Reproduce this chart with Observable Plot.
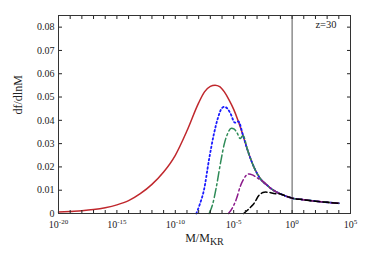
<!DOCTYPE html>
<html>
<head>
<meta charset="utf-8">
<script src="https://cdn.jsdelivr.net/npm/d3@7"></script>
<script src="https://cdn.jsdelivr.net/npm/@observablehq/plot@0.6"></script>
<style>
  html, body { margin: 0; padding: 0; background: #fff; }
  svg { font-family: "Liberation Serif", "DejaVu Serif", serif; }
</style>
</head>
<body>
<div id="chart"></div>
<script>
// log10(M/M_KR) and df/dlnM values
const redLog = [-20,-19,-18,-17,-16,-15,-14,-13,-12,-11,-10,-9,-8,-7.5,-7,-6.6,-6.2,-5.8,-5.4,-5,-4.6,-4.2,-3.8,-3.4,-3,-2.6,-2.2,-1.8,-1.4,-1,-0.5,0,1,2,3,4];
const redVal = [0.0006,0.0009,0.0012,0.0017,0.0025,0.0037,0.0055,0.0085,0.0125,0.0178,0.0250,0.0355,0.0475,0.0522,0.0546,0.0551,0.0545,0.0522,0.0488,0.0447,0.0395,0.0335,0.0270,0.0215,0.0172,0.0142,0.0124,0.0107,0.0094,0.0084,0.0074,0.0066,0.0059,0.0053,0.0048,0.0044];

const blueLog = [-8.2,-7.9,-7.55,-7.1,-6.7,-6.35,-6.0,-5.8,-5.55,-5.27,-4.9];
const blueVal = [0,0.004,0.010,0.0235,0.034,0.041,0.0453,0.0458,0.0451,0.0429,0.0390];

const greenLog = [-7.1,-6.8,-6.5,-6.1,-5.8,-5.5,-5.2,-4.95,-4.7,-4.45];
const greenVal = [0,0.004,0.011,0.0225,0.030,0.0345,0.0366,0.0362,0.0345,0.0322];

const purpleLog = [-5.45,-5.1,-4.75,-4.45,-4.15,-3.9,-3.7,-3.4,-3.1,-2.8];
const purpleVal = [0,0.0025,0.0065,0.0115,0.0148,0.0165,0.0170,0.0166,0.0157,0.0147];

const blackLog = [-4.15,-3.8,-3.5,-3.28,-2.85,-2.5,-2.28,-1.9,-1.57,-1.3];
const blackVal = [0,0.0015,0.003,0.0042,0.0077,0.0090,0.0092,0.0090,0.0086,0.0085];

const yTicks = [0,0.01,0.02,0.03,0.04,0.05,0.06,0.07,0.08];
const xMajorExp = [-20,-15,-10,-5,0,5];
const xMinorExp = d3.range(-20, 6);
const xLabel = "M/M_KR";
const yLabel = "df/dlnM";
const zLabel = "z=30";

// each truncated curve joins the common (red) tail after its last own point
function build(logs, vals, tail) {
  const own = logs.map((l, i) => ({x: 10 ** l, y: vals[i]}));
  const last = logs[logs.length - 1];
  const rest = redLog.map((l, i) => ({l, v: redVal[i]})).filter(d => d.l > last + 0.15).map(d => ({x: 10 ** d.l, y: d.v}));
  return tail ? own.concat(rest) : own;
}
const red = build(redLog, redVal, false);
const blue = build(blueLog, blueVal, true);
const green = build(greenLog, greenVal, true);
const purple = build(purpleLog, purpleVal, true);
const black = build(blackLog, blackVal, true);

const lineOpts = {x: "x", y: "y", curve: "monotone-x", strokeWidth: 1.5};

const chart = Plot.plot({
  width: 374,
  height: 262,
  marginLeft: 58,
  marginRight: 24,
  marginTop: 15,
  marginBottom: 49,
  style: {fontFamily: "Liberation Serif, serif", fontSize: "10px", color: "#222", background: "#fff"},
  x: {type: "log", domain: [1e-20, 1e5]},
  y: {domain: [0, 0.085]},
  marks: [
    Plot.ruleX([1], {stroke: "#555", strokeWidth: 1}),
    Plot.line(red, {...lineOpts, stroke: "#c0282d"}),
    Plot.line(blue, {...lineOpts, stroke: "#1a1aff", strokeDasharray: "1.6,2.6", strokeWidth: 1.8}),
    Plot.line(green, {...lineOpts, stroke: "#2e8b57", strokeDasharray: "9,3,2,3"}),
    Plot.line(purple, {...lineOpts, stroke: "#8b1a8b", strokeDasharray: "7,3,2,3"}),
    Plot.line(black, {...lineOpts, stroke: "#000", strokeDasharray: "6,3"}),
    Plot.axisY({ticks: yTicks, tickSize: -4, tickPadding: 8, label: null,
      tickFormat: d => d === 0 ? "0" : d3.format(".2f")(d), fontSize: 10}),
    Plot.axisY({anchor: "right", ticks: yTicks, tickSize: -4, label: null, tickFormat: () => ""}),
    Plot.axisX({ticks: xMinorExp.map(e => 10 ** e), tickSize: -3, label: null, tickFormat: () => ""}),
    Plot.axisX({anchor: "top", ticks: xMinorExp.map(e => 10 ** e), tickSize: -3, label: null, tickFormat: () => ""}),
    Plot.axisX({ticks: xMajorExp.map(e => 10 ** e), tickSize: 0, tickPadding: 7, label: null,
      tickFormat: d => "10^" + Math.round(Math.log10(d)), fontSize: 10}),
    Plot.frame({stroke: "#333", strokeWidth: 1}),
    Plot.text([zLabel], {frameAnchor: "top-right", textAnchor: "end", lineAnchor: "top", dx: -14, dy: 5, fontSize: 10.5, fill: "#222"}),
    Plot.text([xLabel], {frameAnchor: "bottom", lineAnchor: "middle", dy: 25, fontSize: 12, fill: "#222"}),
    Plot.text([yLabel], {frameAnchor: "left", rotate: -90, lineAnchor: "middle", dx: -40, fontSize: 12, fill: "#222"})
  ]
});
document.getElementById("chart").appendChild(chart);

const svg = d3.select(chart);
svg.selectAll("text").each(function () {
  const s = this.textContent;
  const t = d3.select(this);
  if (s.startsWith("10^")) {
    const [b, e] = s.split("^");
    t.text(b);
    t.append("tspan").attr("dy", "-0.5em").attr("font-size", "7px").text(e);
  } else if (s === xLabel) {
    const [b, e] = s.split("_");
    t.text(b);
    t.append("tspan").attr("dy", "3").attr("font-size", "10px").text(e);
  }
});
</script>
</body>
</html>
